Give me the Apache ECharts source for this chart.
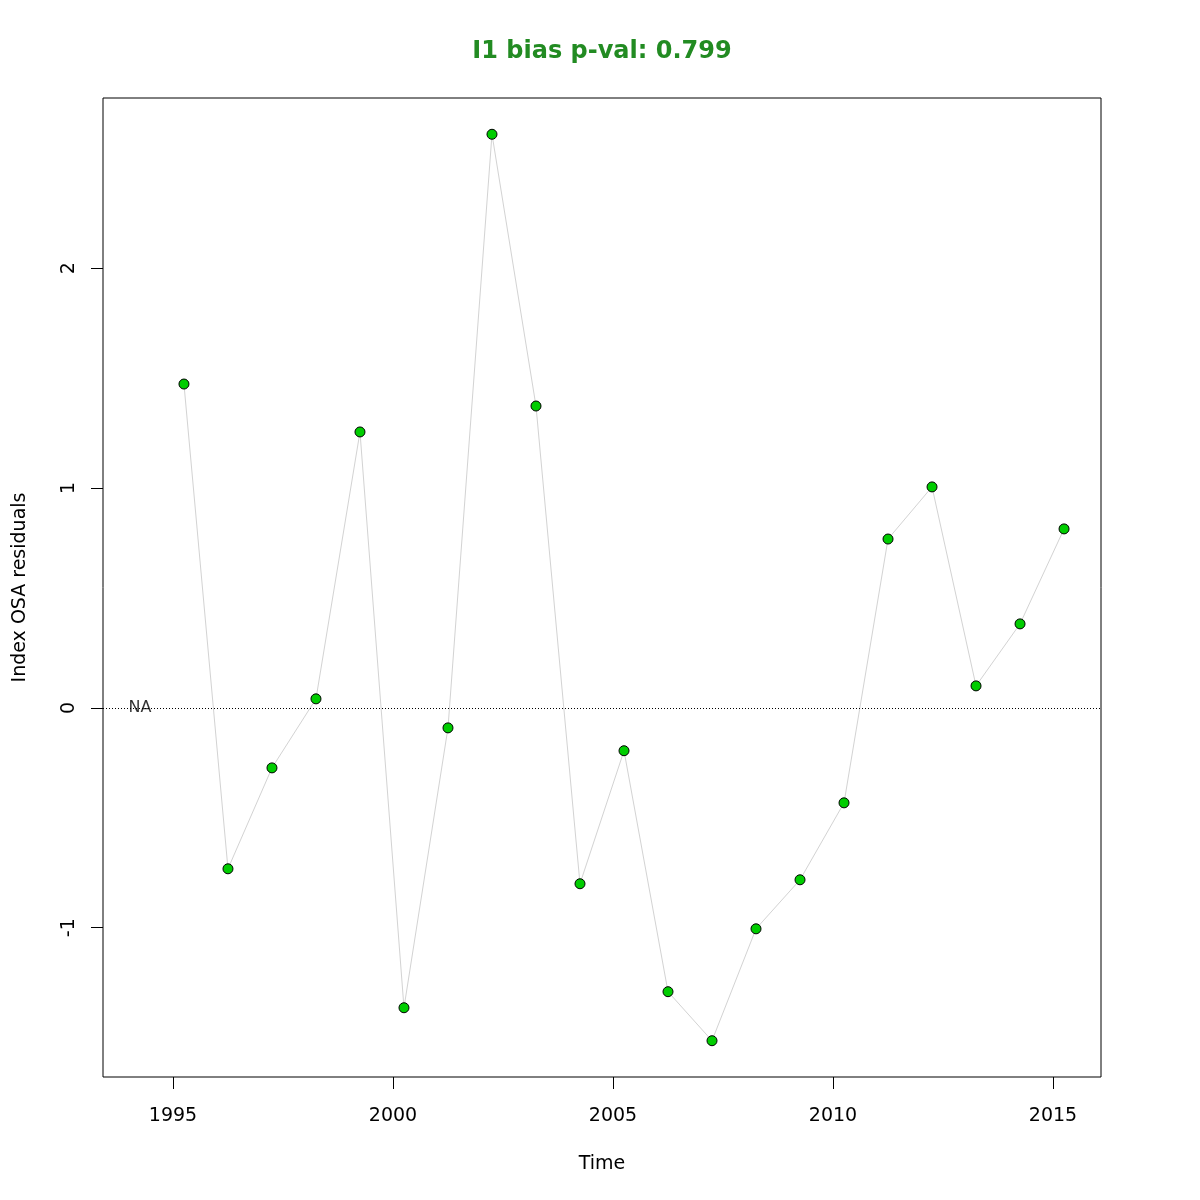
<!DOCTYPE html>
<html>
<head>
<meta charset="utf-8">
<script src="https://cdn.jsdelivr.net/npm/echarts@6/dist/echarts.min.js"></script>
<style>html,body{margin:0;padding:0;background:#fff}#c{width:1200px;height:1200px}</style>
</head>
<body>
<div id="c"></div>
<script>
const years = [1995.25,1996.25,1997.25,1998.25,1999.25,2000.25,2001.25,2002.25,2003.25,2004.25,2005.25,2006.25,2007.25,2008.25,2009.25,2010.25,2011.25,2012.25,2013.25,2014.25,2015.25];
const residuals = [1.473,-0.732,-0.273,0.041,1.255,-1.364,-0.091,2.609,1.373,-0.800,-0.195,-1.291,-1.514,-1.005,-0.782,-0.432,0.768,1.005,0.100,0.382,0.814];
const xTicks = [1995,2000,2005,2010,2015];
const yTicks = [-1,0,1,2];
const naLabel = {x: 1994.25, y: 0, text: 'NA'};
const titleText = 'I1 bias p-val: 0.799';

const font = 'DejaVu Sans';
const chart = echarts.init(document.getElementById('c'), null, {renderer: 'canvas'});
chart.setOption({
  animation: false,
  backgroundColor: '#fff',
  title: {
    text: titleText,
    left: 602, top: 40, textAlign: 'center', padding: 0,
    textStyle: {fontFamily: font, fontSize: 24, fontWeight: 'bold', color: '#228B22'}
  },
  grid: {left: 103, right: 99, top: 98, bottom: 123, show: true, borderColor: '#000', borderWidth: 1, backgroundColor: 'transparent'},
  xAxis: {
    type: 'value', min: 1993.41, max: 2016.09,
    name: 'Time', nameLocation: 'middle', nameGap: 78,
    nameTextStyle: {fontFamily: font, fontSize: 19, color: '#000'},
    axisLine: {show: false, onZero: false},
    splitLine: {show: false},
    axisTick: {show: true, inside: false, length: 12, customValues: xTicks, lineStyle: {color: '#000', width: 1}},
    axisLabel: {customValues: xTicks, margin: 30, fontFamily: font, fontSize: 19, color: '#000', formatter: v => String(v)}
  },
  yAxis: {
    type: 'value', min: -1.679, max: 2.774,
    name: 'Index OSA residuals', nameLocation: 'middle', nameGap: 73,
    nameTextStyle: {fontFamily: font, fontSize: 19, color: '#000'},
    axisLine: {show: false, onZero: false},
    splitLine: {show: false},
    axisTick: {show: true, inside: false, length: 12, customValues: yTicks, lineStyle: {color: '#000', width: 1}},
    axisLabel: {customValues: yTicks, rotate: 90, margin: 24, fontFamily: font, fontSize: 19, color: '#000', formatter: v => String(v), verticalAlign: 'bottom', align: 'center'}
  },
  series: [
    {
      type: 'line',
      data: years.map((y, i) => [y, residuals[i]]),
      lineStyle: {color: '#d3d3d3', width: 1},
      symbol: 'circle', symbolSize: 10,
      itemStyle: {color: '#00CD00', borderColor: '#000', borderWidth: 1},
      markLine: {
        silent: true, symbol: 'none', label: {show: false},
        lineStyle: {color: '#000', type: [1, 2], width: 1},
        data: [{yAxis: 0}]
      },
      z: 3
    },
    {
      type: 'scatter',
      data: [[naLabel.x, naLabel.y]],
      symbolSize: 0,
      label: {show: true, position: 'inside', formatter: naLabel.text, fontFamily: font, fontSize: 16, color: '#000'},
      z: 4
    }
  ]
});
</script>
</body>
</html>
